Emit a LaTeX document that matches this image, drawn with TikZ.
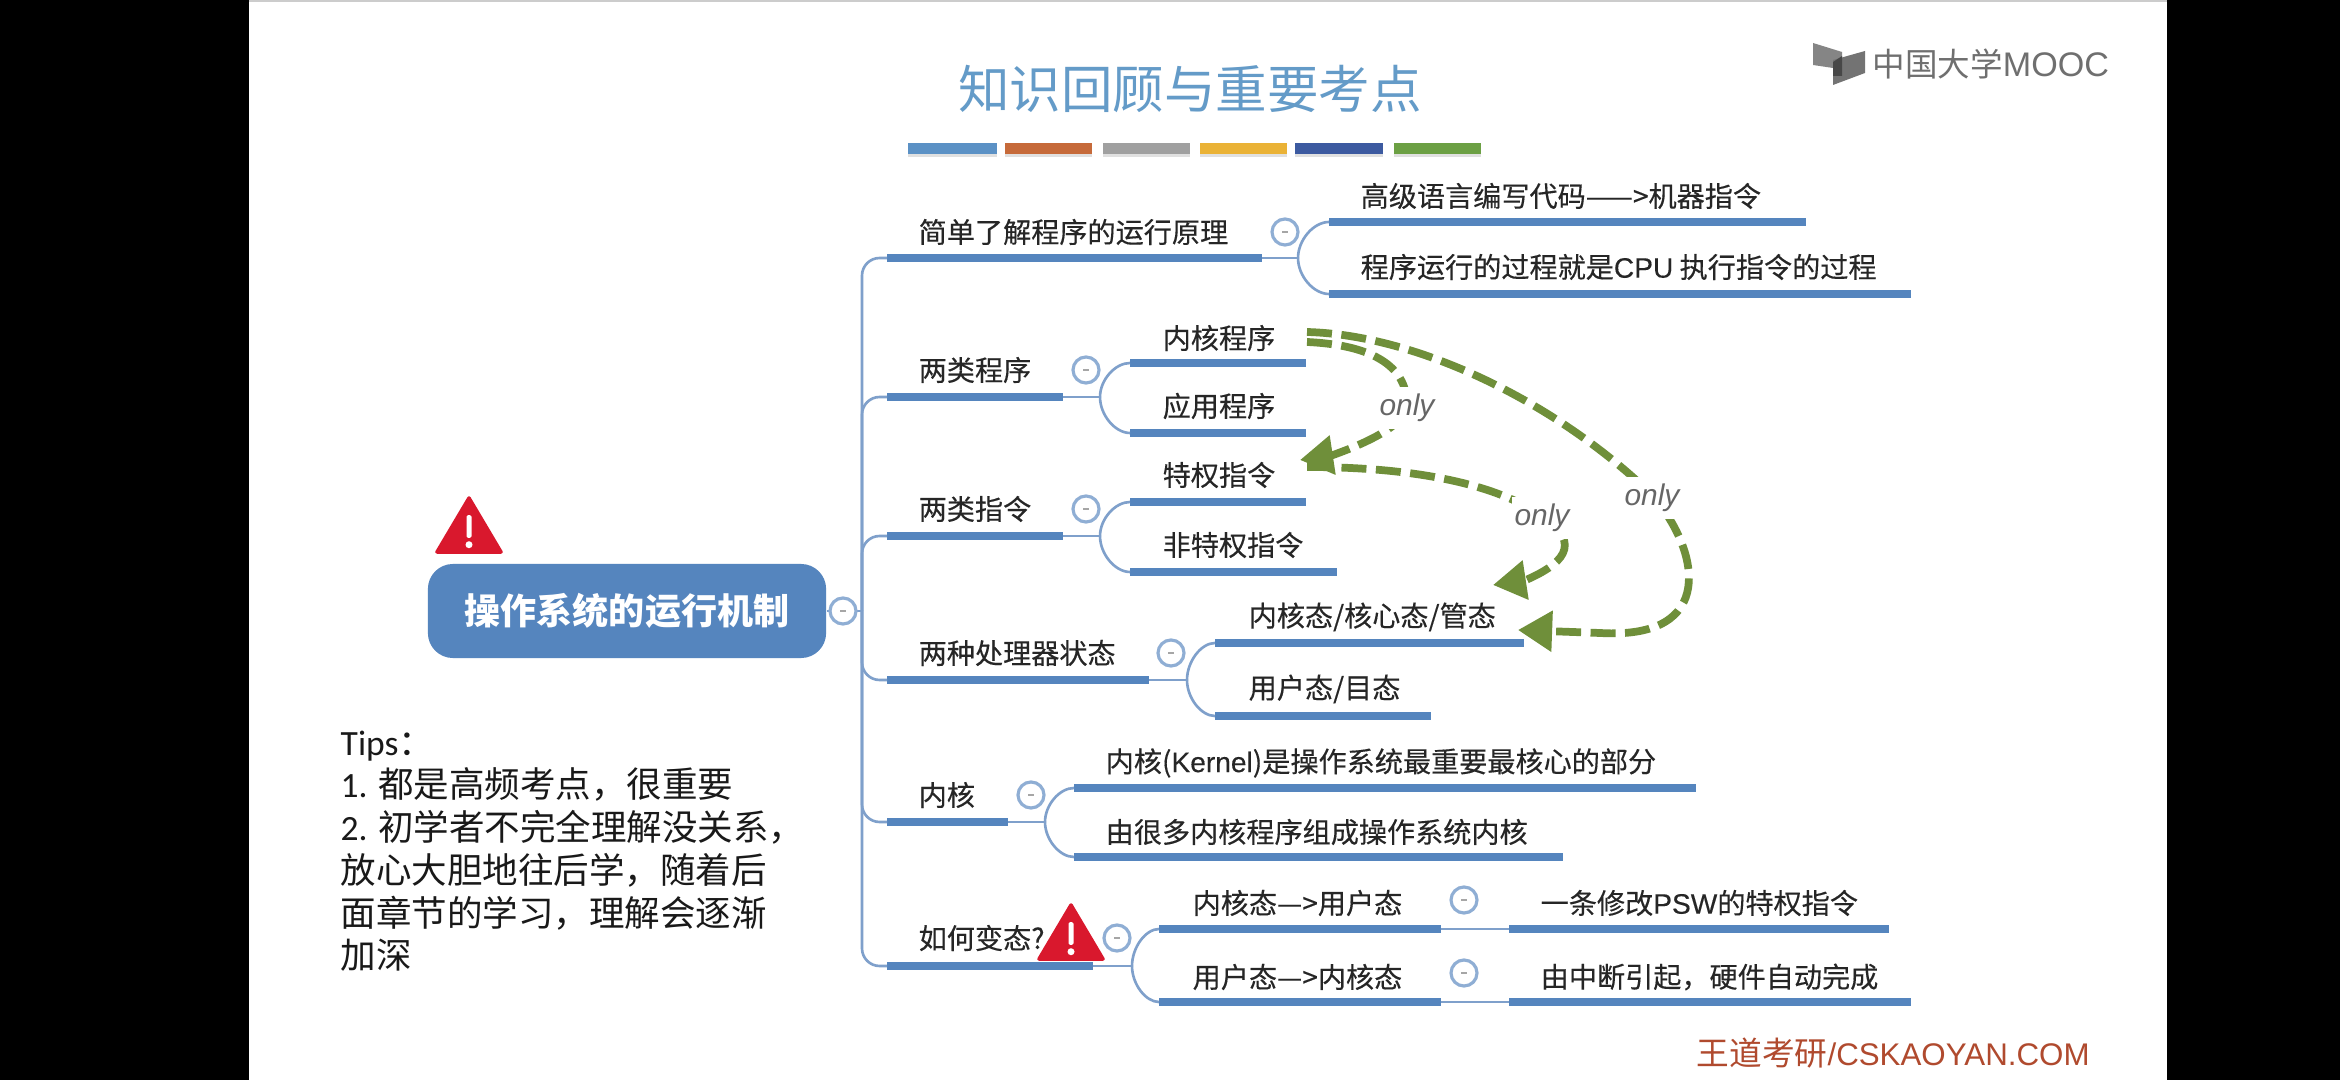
\documentclass[tikz,border=0pt]{standalone}
\usepackage{fontspec}
\setmainfont{Noto Sans CJK SC}
\newfontfamily\mapfont[FakeBold=0.3]{Noto Sans CJK SC}
\newfontfamily\lat{Liberation Sans}
\newfontfamily\latb[FakeBold=0.3]{Liberation Sans}
\newfontfamily\carl{Carlito}
\usetikzlibrary{calc,arrows.meta}
\definecolor{barblue}{HTML}{5585BE}
\definecolor{linkblue}{HTML}{7FA0CB}
\definecolor{ringblue}{HTML}{8FAED4}
\definecolor{dashgreen}{HTML}{6F8F3A}
\definecolor{warnred}{HTML}{D9182D}
\definecolor{logogray}{HTML}{6F6F6F}
\definecolor{wmred}{HTML}{B04A2E}
\tikzset{
  x=0.01cm,y=-0.01cm,
  mapbar/.style={draw=barblue,line width=2.5pt},
  maplink/.style={draw=linkblue,line width=0.75pt},
  maptext/.style={anchor=west,inner sep=0pt,text=black!85,font=\fontsize{8}{9.5}\mapfont\selectfont},
  toggle/.style={circle,draw=ringblue,fill=white,line width=0.9pt,minimum size=0.26cm,inner sep=0pt,
    path picture={\draw[gray!70,line width=0.5pt] ($(path picture bounding box.center)+(-3,0)$) -- ($(path picture bounding box.center)+(3,0)$);}},
  onlyarrow/.style={draw=dashgreen,line width=2.2pt,dash pattern=on 7.1pt off 2.7pt},
  onlylabel/.style={fill=white,text=black!60,inner sep=0pt,minimum width=0.6cm,minimum height=0.42cm,font=\fontsize{8.5}{10}\lat\itshape\selectfont},
  warnshape/.style={fill=warnred,draw=warnred,line width=1pt,line join=round},
}
% bar: name, x1, x2, y
\newcommand{\mapbar}[4]{\coordinate (#1-l) at (#2,#4);\coordinate (#1-r) at (#3,#4);\draw[mapbar] (#1-l) -- (#1-r);}
% fork from junction to child left end
\newcommand{\forkto}[2]{\draw[maplink] let \p1=(#1),\p2=(#2) in (#1) .. controls (\x1,{\y2+0.5*(\y1-\y2)}) and ({\x1+0.5*(\x2-\x1)},\y2) .. (#2);}
% warning sign: left x, top y, right x, bottom y
\newcommand{\warnsign}[4]{%
  \fill[warnshape] ({(#1+#3)/2},#2+2) -- (#3-2,#4-2) -- (#1+2,#4-2) -- cycle;
  \fill[white,rounded corners=0.4pt] ({(#1+#3)/2-2.5},{#2+0.33*(#4-#2)}) rectangle ({(#1+#3)/2+2.5},{#2+0.72*(#4-#2)});
  \fill[white] ({(#1+#3)/2},{#2+0.84*(#4-#2)}) circle (0.035cm);}
\begin{document}
\begin{tikzpicture}
\useasboundingbox (0,0) rectangle (2340,1080);
\fill[black] (0,0) rectangle (2340,1080);
\fill[white] (249,0) rectangle (2167,1080);
\fill[gray!40] (249,0) rectangle (2167,2);
% title and bars
\node[inner sep=0pt,text={rgb,255:red,100;green,155;blue,200},font=\fontsize{14.65}{18}\selectfont] (title) at (1190,89) {知识回顾与重要考点};
\fill[black!12] (908,147) rectangle (997,157);
\fill[black!12] (1005,147) rectangle (1092,157);
\fill[black!12] (1103,147) rectangle (1190,157);
\fill[black!12] (1200,147) rectangle (1287,157);
\fill[black!12] (1295,147) rectangle (1383,157);
\fill[black!12] (1394,147) rectangle (1481,157);
\fill[fill={rgb,255:red,91;green,145;blue,197}] (908,143) rectangle (997,154);
\fill[fill={rgb,255:red,198;green,106;blue,58}] (1005,143) rectangle (1092,154);
\fill[fill={rgb,255:red,160;green,160;blue,160}] (1103,143) rectangle (1190,154);
\fill[fill={rgb,255:red,234;green,178;blue,54}] (1200,143) rectangle (1287,154);
\fill[fill={rgb,255:red,60;green,90;blue,160}] (1295,143) rectangle (1383,154);
\fill[fill={rgb,255:red,108;green,160;blue,68}] (1394,143) rectangle (1481,154);
% logo
\fill[black!48] (1813,43) -- (1842,52) -- (1842,62) -- (1833,68) -- (1813,65) -- cycle;
\fill[black!55] (1865,51) -- (1865,73) -- (1833,85) -- (1833,60) -- cycle;
\fill[black!72] (1842,56) -- (1842,76) -- (1833,76) -- (1833,62) -- cycle;
\node[anchor=west,inner sep=0pt,text=logogray,font=\fontsize{9.25}{12}\selectfont] (logo) at (1872,64) {中国大学{\fontsize{9.7}{12}\lat\selectfont MOOC}};
% root
\node[fill=barblue,rounded corners=0.25cm,minimum width=3.98cm,minimum height=0.94cm,inner sep=0pt,text=white,font=\fontsize{10.25}{12}\selectfont\bfseries] (root) at (627,611) {操作系统的运行机制};
\warnsign{435}{496}{503}{554}
\coordinate (trunk) at (862,611);
\draw[maplink] (root.east) -- (trunk);
\node[toggle] (t0) at (843,611) {};
% level 1
\mapbar{a}{887}{1262}{258}
\mapbar{b}{887}{1063}{397}
\mapbar{c}{887}{1063}{536}
\mapbar{d}{887}{1149}{680}
\mapbar{e}{887}{1008}{822}
\mapbar{f}{887}{1093}{966}
\draw[maplink,rounded corners=5pt] (a-l) -| (trunk);
\draw[maplink,rounded corners=5pt] (b-l) -| (trunk);
\draw[maplink,rounded corners=5pt] (c-l) -| (trunk);
\draw[maplink,rounded corners=5pt] (d-l) -| (trunk);
\draw[maplink,rounded corners=5pt] (e-l) -| (trunk);
\draw[maplink,rounded corners=5pt] (f-l) -| (trunk);
\node[maptext] (at) at (918,232) {简单了解程序的运行原理};
\node[maptext] (bt) at (918,370) {两类程序};
\node[maptext] (ct) at (918,509) {两类指令};
\node[maptext] (dt) at (918,653) {两种处理器状态};
\node[maptext] (et) at (918,795) {内核};
\node[maptext] (ft) at (918,938) {如何变态?};
% forks
\coordinate (aj) at (1298,258);
\coordinate (bj) at (1100,397);
\coordinate (cj) at (1100,536);
\coordinate (dj) at (1187,680);
\coordinate (ej) at (1045,822);
\coordinate (fj) at (1132,966);
\draw[maplink] (a-r) -- (aj);
\draw[maplink] (b-r) -- (bj);
\draw[maplink] (c-r) -- (cj);
\draw[maplink] (d-r) -- (dj);
\draw[maplink] (e-r) -- (ej);
\draw[maplink] (f-r) -- (fj);
% children
\mapbar{a1}{1329}{1806}{222}
\mapbar{a2}{1329}{1911}{294}
\mapbar{b1}{1130}{1306}{363}
\mapbar{b2}{1130}{1306}{433}
\mapbar{c1}{1130}{1306}{502}
\mapbar{c2}{1130}{1337}{572}
\mapbar{d1}{1215}{1524}{643}
\mapbar{d2}{1215}{1431}{716}
\mapbar{e1}{1074}{1696}{788}
\mapbar{e2}{1074}{1563}{857}
\mapbar{f1}{1159}{1441}{929}
\mapbar{f2}{1159}{1441}{1002}
\mapbar{g1}{1509}{1889}{929}
\mapbar{g2}{1509}{1911}{1002}
\forkto{aj}{a1-l}\forkto{aj}{a2-l}
\forkto{bj}{b1-l}\forkto{bj}{b2-l}
\forkto{cj}{c1-l}\forkto{cj}{c2-l}
\forkto{dj}{d1-l}\forkto{dj}{d2-l}
\forkto{ej}{e1-l}\forkto{ej}{e2-l}
\forkto{fj}{f1-l}\forkto{fj}{f2-l}
\draw[maplink] (f1-r) -- (g1-l);
\draw[maplink] (f2-r) -- (g2-l);
\node[maptext] (a1t) at (1360,196) {高级语言编写代码——>机器指令};
\node[maptext] (a2t) at (1360,267) {程序运行的过程就是{\latb CPU} 执行指令的过程};
\node[maptext] (b1t) at (1162,338) {内核程序};
\node[maptext] (b2t) at (1162,406) {应用程序};
\node[maptext] (c1t) at (1162,475) {特权指令};
\node[maptext] (c2t) at (1162,545) {非特权指令};
\node[maptext] (d1t) at (1248,617) {内核态/核心态/管态};
\node[maptext] (d2t) at (1248,689) {用户态/目态};
\node[maptext] (e1t) at (1105,763) {内核({\latb Kernel})是操作系统最重要最核心的部分};
\node[maptext] (e2t) at (1105,832) {由很多内核程序组成操作系统内核};
\node[maptext] (f1t) at (1192,903) {内核态—>用户态};
\node[maptext] (f2t) at (1192,977) {用户态—>内核态};
\node[maptext] (g1t) at (1540,903) {一条修改{\latb PSW}的特权指令};
\node[maptext] (g2t) at (1540,977) {由中断引起，硬件自动完成};
% toggles
\node[toggle] (ta) at (1285,232) {};
\node[toggle] (tb) at (1086,370) {};
\node[toggle] (tc) at (1086,509) {};
\node[toggle] (td) at (1171,653) {};
\node[toggle] (te) at (1031,795) {};
\node[toggle] (tf) at (1117,938) {};
\node[toggle] (tg) at (1464,900) {};
\node[toggle] (th) at (1464,973) {};
\warnsign{1037}{903}{1105}{961}
% only arrows
\coordinate (kp1) at (1307,332);
\coordinate (kp2) at (1307,342);
\coordinate (pi) at (1307,467);
\coordinate (pt) at (1300,460);
\coordinate (ks1) at (1518,630);
\coordinate (ks2) at (1493,585);
\draw[onlyarrow,-{Triangle[length=9.4pt,width=10.8pt]}] (kp2) .. controls (1350,344) and (1407,355) .. (1407,405) .. controls (1407,422) and (1375,440) .. (1333,455) -- (pt);
\draw[onlyarrow,-{Triangle[length=9.7pt,width=11.2pt]}] (kp1) .. controls (1420,335) and (1560,405) .. (1652,495) .. controls (1700,550) and (1718,640) .. (1600,633) -- (ks1);
\draw[onlyarrow,-{Triangle[length=9.4pt,width=10.8pt]}] (pi) .. controls (1400,467) and (1490,480) .. (1542,516) .. controls (1585,545) and (1560,565) .. (1526,580) -- (ks2);
\node[onlylabel] (o1) at (1407,408) {only};
\node[onlylabel] (o2) at (1652,498) {only};
\node[onlylabel] (o3) at (1542,518) {only};
% tips
\node[anchor=north west,inner sep=0pt,align=left,text=black!90,font=\fontsize{10.1}{12.15}\selectfont] (tips) at (340,730) {{\carl Tips}：\\{\carl 1.} 都是高频考点，很重要\\{\carl 2.} 初学者不完全理解没关系，\\放心大胆地往后学，随着后\\面章节的学习，理解会逐渐\\加深};
% watermark
\node[anchor=west,inner sep=0pt,text=wmred,font=\fontsize{9.3}{11}\selectfont] (wm) at (1696,1053) {王道考研{\fontsize{8.9}{11}\lat\selectfont /CSKAOYAN.COM}};
\end{tikzpicture}
\end{document}
